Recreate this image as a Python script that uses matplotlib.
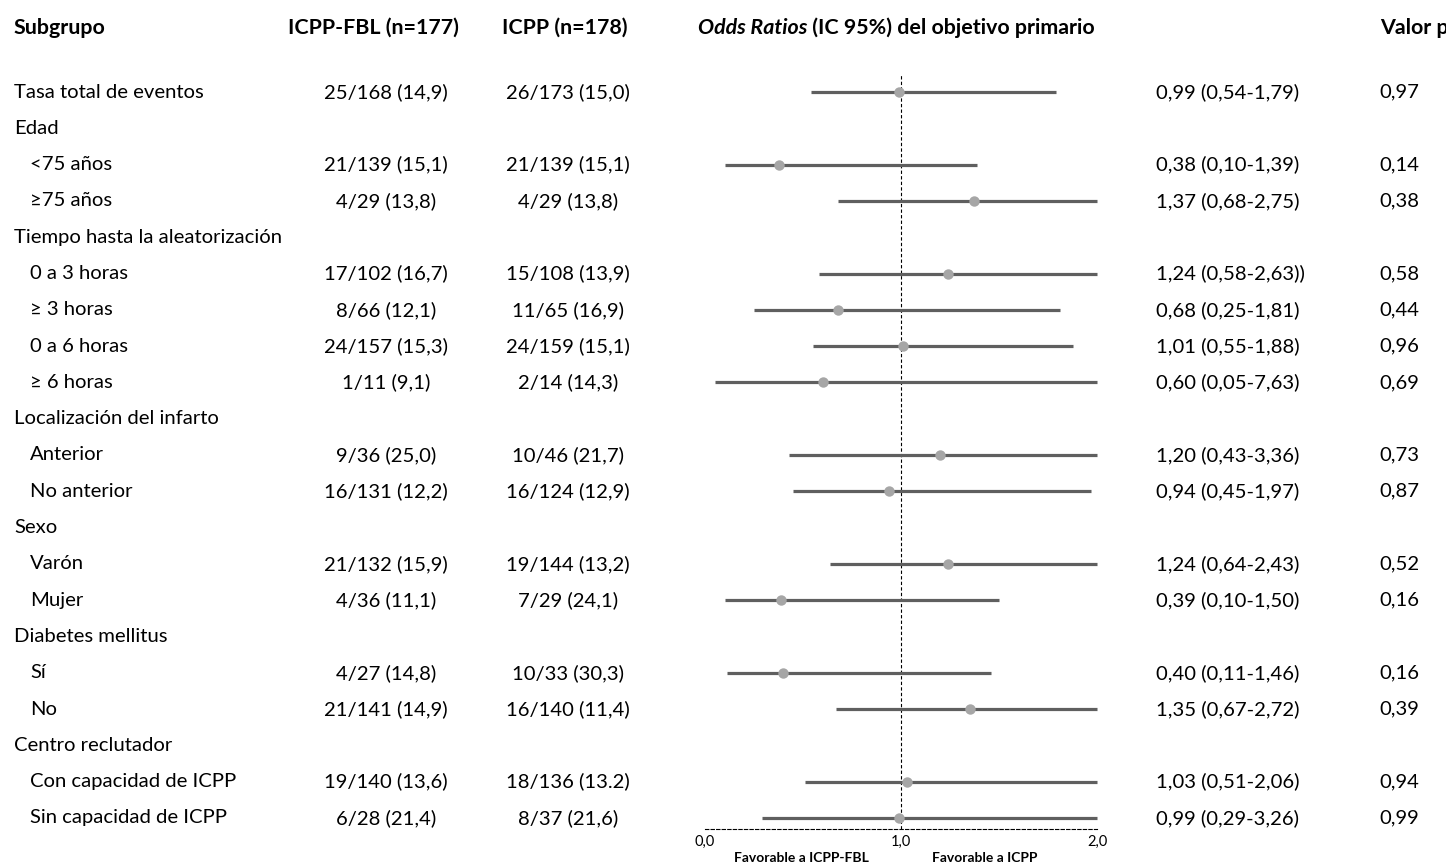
import numpy as np
import matplotlib as mpl
import matplotlib.pyplot as plt

mpl.rcParams.update({
    "font.family": ["Lato", "DejaVu Sans"],
    "axes.unicode_minus": False,
})

# ---- table rows (header rows have no numbers) ----
labels = [
    "Tasa total de eventos", "Edad", "<75 años", "≥75 años",
    "Tiempo hasta la aleatorización", "0 a 3 horas", "≥ 3 horas",
    "0 a 6 horas", "≥ 6 horas", "Localización del infarto", "Anterior",
    "No anterior", "Sexo", "Varón", "Mujer", "Diabetes mellitus", "Sí", "No",
    "Centro reclutador", "Con capacidad de ICPP", "Sin capacidad de ICPP",
]
indented = [False, False, True, True, False, True, True, True, True, False,
            True, True, False, True, True, False, True, True, False, True, True]
fbl_txt = [
    "25/168 (14,9)", "", "21/139 (15,1)", "4/29 (13,8)", "", "17/102 (16,7)",
    "8/66 (12,1)", "24/157 (15,3)", "1/11 (9,1)", "", "9/36 (25,0)",
    "16/131 (12,2)", "", "21/132 (15,9)", "4/36 (11,1)", "", "4/27 (14,8)",
    "21/141 (14,9)", "", "19/140 (13,6)", "6/28 (21,4)",
]
icpp_txt = [
    "26/173 (15,0)", "", "21/139 (15,1)", "4/29 (13,8)", "", "15/108 (13,9)",
    "11/65 (16,9)", "24/159 (15,1)", "2/14 (14,3)", "", "10/46 (21,7)",
    "16/124 (12,9)", "", "19/144 (13,2)", "7/29 (24,1)", "", "10/33 (30,3)",
    "16/140 (11,4)", "", "18/136 (13.2)", "8/37 (21,6)",
]
odds_ratio = [0.99, None, 0.38, 1.37, None, 1.24, 0.68, 1.01, 0.60, None,
              1.20, 0.94, None, 1.24, 0.39, None, 0.40, 1.35, None, 1.03, 0.99]
ci_low = [0.54, None, 0.10, 0.68, None, 0.58, 0.25, 0.55, 0.05, None,
          0.43, 0.45, None, 0.64, 0.10, None, 0.11, 0.67, None, 0.51, 0.29]
ci_high = [1.79, None, 1.39, 2.75, None, 2.63, 1.81, 1.88, 7.63, None,
           3.36, 1.97, None, 2.43, 1.50, None, 1.46, 2.72, None, 2.06, 3.26]
or_txt = [
    "0,99 (0,54-1,79)", "", "0,38 (0,10-1,39)", "1,37 (0,68-2,75)", "",
    "1,24 (0,58-2,63))", "0,68 (0,25-1,81)", "1,01 (0,55-1,88)",
    "0,60 (0,05-7,63)", "", "1,20 (0,43-3,36)", "0,94 (0,45-1,97)", "",
    "1,24 (0,64-2,43)", "0,39 (0,10-1,50)", "", "0,40 (0,11-1,46)",
    "1,35 (0,67-2,72)", "", "1,03 (0,51-2,06)", "0,99 (0,29-3,26)",
]
p_txt = ["0,97", "", "0,14", "0,38", "", "0,58", "0,44", "0,96", "0,69", "",
         "0,73", "0,87", "", "0,52", "0,16", "", "0,16", "0,39", "", "0,94",
         "0,99"]
x_ticks = [0.0, 1.0, 2.0]
x_tick_labels = ["0,0", "1,0", "2,0"]

W, H = 1446, 867
FS = 14.6
FS_HDR = 15.4
ROW0, STEP = 92, 36.3

fig = plt.figure(figsize=(W / 100, H / 100), dpi=100)

# full-figure text layer in pixel units
tx = fig.add_axes([0, 0, 1, 1])
tx.set_xlim(0, W)
tx.set_ylim(H, 0)
tx.axis("off")

hdr_y = 28
tx.text(14, hdr_y, "Subgrupo", fontsize=FS_HDR, fontweight="bold", va="center")
tx.text(373, hdr_y, "ICPP-FBL (n=177)", fontsize=FS_HDR, fontweight="bold",
        va="center", ha="center")
tx.text(565, hdr_y, "ICPP (n=178)", fontsize=FS_HDR, fontweight="bold",
        va="center", ha="center")
t = tx.text(698, hdr_y, "Odds Ratios", fontsize=FS_HDR, fontweight="bold",
            fontstyle="italic", va="center")
tx.annotate(" (IC 95%) del objetivo primario", xycoords=t, xy=(1, 0.5),
            va="center", fontsize=FS_HDR, fontweight="bold")
tx.text(1380, hdr_y, "Valor p", fontsize=FS_HDR, fontweight="bold",
        va="center")

rows_y = ROW0 + STEP * np.arange(len(labels))
for i, y in enumerate(rows_y):
    tx.text(30 if indented[i] else 14, y, labels[i], fontsize=FS, va="center")
    tx.text(386, y, fbl_txt[i], fontsize=FS, va="center", ha="center")
    tx.text(568, y, icpp_txt[i], fontsize=FS, va="center", ha="center")
    tx.text(1156, y, or_txt[i], fontsize=FS, va="center")
    tx.text(1379, y, p_txt[i], fontsize=FS, va="center")

# forest panel: x = odds ratio (linear 0-2), y in the same pixel rows
ax_left, ax_right = 705, 1097
ax_top, ax_bot = 75, 829
ax = fig.add_axes([ax_left / W, 1 - ax_bot / H, (ax_right - ax_left) / W,
                   (ax_bot - ax_top) / H])
ax.set_xlim(0, 2)
ax.set_ylim(ax_bot, ax_top)
ax.patch.set_alpha(0)
for s in ["top", "right", "left"]:
    ax.spines[s].set_visible(False)
ax.spines["bottom"].set_linestyle((0, (3, 2)))
ax.spines["bottom"].set_linewidth(0.8)
ax.set_yticks([])
ax.set_xticks(x_ticks)
ax.set_xticklabels(x_tick_labels, fontsize=10.5)
ax.tick_params(axis="x", length=0, pad=4)
ax.axvline(1.0, color="black", linestyle=(0, (3, 2)), linewidth=0.8)

for i, y in enumerate(rows_y):
    if odds_ratio[i] is None:
        continue
    ax.plot([ci_low[i], min(ci_high[i], 2.0)], [y, y], color="#5f5f5f",
            linewidth=2.3, solid_capstyle="butt", clip_on=False, zorder=2)
    ax.plot(odds_ratio[i], y, "o", color="#a6a6a6", markersize=7.5,
            markeredgewidth=0, zorder=3)

tx.text(801, 858, "Favorable a ICPP-FBL", fontsize=10, fontweight="bold",
        ha="center", va="center")
tx.text(985, 858, "Favorable a ICPP", fontsize=10, fontweight="bold",
        ha="center", va="center")

fig.savefig("out.png", dpi=100)
